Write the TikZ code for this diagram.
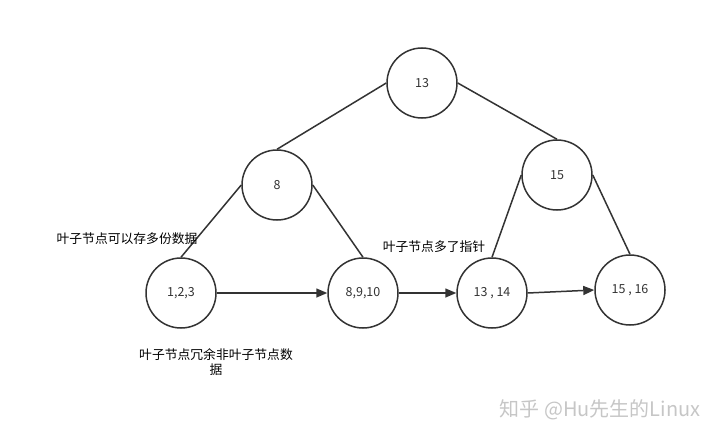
\documentclass[tikz,border=0pt]{standalone}
\usepackage{fontspec}
\setmainfont{Noto Sans CJK SC}
\newfontfamily\cjk{Noto Sans CJK SC}
\usetikzlibrary{arrows.meta}
\definecolor{ink}{HTML}{333333}
\begin{document}
\begin{tikzpicture}[x=1pt,y=-1pt,
  nd/.style={circle,draw=ink,line width=1.5pt,minimum size=70pt,inner sep=0pt,font=\fontsize{12.5}{14}\selectfont,text=ink},
  ln/.style={draw=ink,line width=1.5pt},
  ar/.style={ln,-{Triangle[length=11pt,width=9pt]}},
  lb/.style={font=\cjk\fontsize{12.8}{15.5}\selectfont,text=black,inner sep=0pt}]
\useasboundingbox (0,0) rectangle (727,444);
\node[nd] (r) at (422,83) {13};
\node[nd] (a) at (277,185) {8};
\node[nd] (b) at (557,175) {15};
\node[nd] (l1) at (181,293) {1,2,3};
\node[nd] (l2) at (363,293) {8,9,10};
\node[nd] (l3) at (492,293) {13 , 14};
\node[nd] (l4) at (630,290) {15 , 16};
\draw[ln] (r.west) -- (a.north);
\draw[ln] (r.east) -- (b.north);
\draw[ln] (a.west) -- (l1.north);
\draw[ln] (a.east) -- (l2.north);
\draw[ln] (b.west) -- (l3.north);
\draw[ln] (b.east) -- (l4.north);
\draw[ar] (l1.east) -- (l2.west);
\draw[ar] (l2.east) -- (l3.west);
\draw[ar] (l3.east) -- (l4.west);
\node[lb] (t1) at (127,239) {叶子节点可以存多份数据};
\node[lb] (t2) at (434,247) {叶子节点多了指针};
\node[lb,align=center] (t3) at (216,362) {叶子节点冗余非叶子节点数\\据};
\node[font=\cjk\fontsize{20}{22}\selectfont,text=gray!45,inner sep=0pt] (wm) at (600,410) {知乎 @Hu先生的Linux};
\end{tikzpicture}
\end{document}
